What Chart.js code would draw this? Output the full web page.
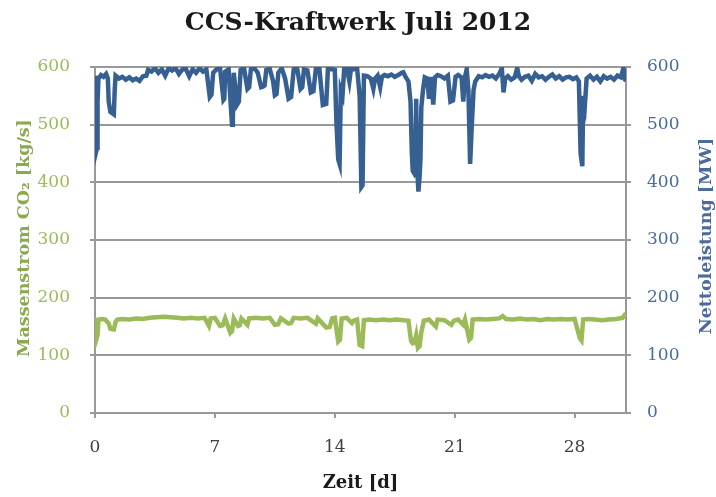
<!DOCTYPE html>
<html lang="de">
<head>
<meta charset="utf-8">
<title>CCS-Kraftwerk Juli 2012</title>
<script src="https://cdn.jsdelivr.net/npm/chart.js@4.4.1/dist/chart.umd.min.js"></script>
<style>
  html, body { margin: 0; padding: 0; background: #fff; }
</style>
</head>
<body>
<canvas id="kraftwerk" width="716" height="497"></canvas>
<script>
// Nettoleistung [MW] ueber Zeit [d]
const tageLeistung = [
  0.00, 0.05, 0.08, 0.12, 0.15, 0.20, 0.35, 0.50, 0.65, 0.75, 0.80, 0.90, 1.00, 1.10, 1.15, 1.20,
  1.40, 1.60, 1.80, 2.00, 2.20, 2.40, 2.60, 2.80, 3.00, 3.10, 3.30, 3.50, 3.70, 3.90, 4.10, 4.30,
  4.50, 4.70, 4.90, 5.10, 5.30, 5.50, 5.70, 5.90, 6.10, 6.30, 6.50, 6.70, 6.80, 6.90, 7.10, 7.30,
  7.50, 7.55, 7.60, 7.80, 7.90, 8.00, 8.05, 8.10, 8.30, 8.40, 8.50, 8.70, 8.90, 9.00, 9.10, 9.30,
  9.50, 9.70, 9.80, 9.90, 10.00, 10.20, 10.40, 10.50, 10.60, 10.70, 10.90, 11.10, 11.30, 11.45, 11.60, 11.80,
  12.00, 12.10, 12.20, 12.40, 12.60, 12.75, 12.90, 13.10, 13.30, 13.50, 13.60, 13.80, 14.00, 14.10, 14.20, 14.28,
  14.35, 14.45, 14.55, 14.70, 14.85, 14.95, 15.10, 15.30, 15.45, 15.55, 15.62, 15.70, 15.90, 16.10, 16.25, 16.35,
  16.50, 16.65, 16.75, 16.90, 17.10, 17.30, 17.50, 17.70, 17.90, 18.00, 18.15, 18.30, 18.42, 18.50, 18.55, 18.65,
  18.70, 18.75, 18.80, 18.88, 18.95, 19.00, 19.05, 19.15, 19.25, 19.40, 19.50, 19.60, 19.75, 19.85, 20.00, 20.20,
  20.40, 20.60, 20.75, 20.90, 21.05, 21.20, 21.40, 21.50, 21.60, 21.70, 21.80, 21.90, 22.00, 22.10, 22.20, 22.40,
  22.60, 22.80, 23.00, 23.20, 23.40, 23.60, 23.75, 23.85, 23.95, 24.10, 24.30, 24.50, 24.65, 24.75, 24.90, 25.10,
  25.30, 25.50, 25.70, 25.90, 26.10, 26.30, 26.50, 26.70, 26.90, 27.10, 27.30, 27.50, 27.70, 27.90, 28.10, 28.25,
  28.35, 28.45, 28.50, 28.60, 28.70, 28.90, 29.10, 29.30, 29.50, 29.70, 29.90, 30.10, 30.30, 30.50, 30.70, 30.85,
  30.95, 31.00
];
const leistung = [
  585, 560, 455, 460, 540, 580, 586, 583, 588, 580, 540, 522, 520, 518, 560, 585,
  580, 583, 578, 582, 577, 580, 576, 584, 585, 595, 592, 598, 590, 596, 585, 598,
  594, 598, 588, 596, 597, 584, 596, 590, 598, 592, 596, 548, 552, 590, 596, 598,
  543, 545, 592, 596, 545, 500, 510, 590, 535, 540, 595, 598, 562, 565, 596, 598,
  590, 565, 566, 568, 595, 597, 575, 551, 553, 590, 598, 580, 545, 548, 596, 598,
  562, 565, 596, 594, 556, 558, 598, 597, 534, 536, 598, 596, 595, 500, 440, 432,
  560, 551, 598, 598, 575, 598, 596, 598, 550, 392, 395, 585, 584, 580, 562, 580,
  585, 565, 583, 586, 584, 587, 583, 586, 590, 591, 582, 575, 540, 450, 420, 415,
  418, 545, 430, 384, 410, 440, 530, 560, 582, 580, 545, 583, 535, 582, 586, 584,
  580, 585, 540, 542, 583, 586, 582, 540, 583, 596, 560, 432, 500, 560, 575, 584,
  582, 586, 583, 585, 580, 588, 598, 556, 580, 584, 578, 582, 598, 584, 578, 583,
  585, 576, 588, 582, 584, 578, 583, 587, 580, 584, 578, 582, 583, 579, 582, 575,
  450, 428, 550, 534, 580, 585, 578, 583, 575, 584, 580, 583, 578, 585, 582, 598,
  578, 577
];

// Massenstrom CO2 [kg/s] ueber Zeit [d]
const tageCO2 = [
  0.00, 0.05, 0.10, 0.15, 0.20, 0.40, 0.60, 0.80, 0.90, 1.10, 1.20, 1.30, 1.60, 2.00, 2.40, 2.80,
  3.20, 3.60, 4.00, 4.40, 4.80, 5.20, 5.60, 6.00, 6.40, 6.65, 6.75, 7.00, 7.30, 7.45, 7.60, 7.90,
  8.00, 8.10, 8.35, 8.45, 8.55, 8.90, 9.00, 9.40, 9.80, 10.20, 10.50, 10.70, 10.85, 11.30, 11.45, 11.60,
  12.00, 12.40, 12.90, 13.00, 13.50, 13.70, 13.85, 14.00, 14.20, 14.30, 14.40, 14.70, 15.00, 15.10, 15.30, 15.45,
  15.60, 15.70, 16.00, 16.40, 16.80, 17.20, 17.60, 18.00, 18.30, 18.45, 18.55, 18.65, 18.75, 18.85, 18.95, 19.05,
  19.20, 19.50, 19.90, 20.00, 20.40, 20.80, 20.95, 21.20, 21.50, 21.60, 21.85, 21.95, 22.05, 22.40, 22.80, 23.20,
  23.60, 23.80, 24.00, 24.40, 24.80, 25.20, 25.60, 26.00, 26.40, 26.80, 27.20, 27.60, 28.00, 28.30, 28.40, 28.50,
  28.80, 29.20, 29.60, 30.00, 30.40, 30.80, 30.90, 31.00
];
const massenstrom = [
  165, 150, 130, 135, 162, 163, 162, 155, 146, 145, 158, 162, 163, 162, 164, 163,
  165, 166, 167, 166, 165, 164, 165, 164, 165, 151, 164, 165, 151, 152, 164, 139,
  142, 164, 151, 152, 164, 153, 164, 165, 164, 165, 153, 154, 164, 155, 156, 165,
  164, 165, 155, 164, 148, 149, 164, 165, 124, 127, 164, 165, 156, 160, 162, 118,
  116, 161, 162, 161, 162, 161, 162, 161, 160, 125, 121, 122, 135, 113, 116, 140,
  160, 162, 150, 162, 161, 153, 160, 162, 153, 162, 127, 130, 162, 163, 162, 163,
  164, 168, 163, 162, 164, 162, 163, 161, 163, 162, 163, 162, 163, 130, 126, 162,
  163, 162, 161, 162, 163, 165, 169, 165
];

const zeitTicks = [0, 7, 14, 21, 28];
const achsenWerte = [0, 100, 200, 300, 400, 500, 600];

const gruen = '#9BBB59';
const gruenText = '#8AAA4C';
const blau = '#376092';
const blauText = '#4A6B9C';
const gitter = '#999999';
const schrift = '"DejaVu Serif", "Liberation Serif", serif';

function punkte(xs, ys) {
  return xs.map((x, i) => ({ x: x, y: ys[i] }));
}

function achsenTitel(ctx, text, x, y, farbe) {
  ctx.save();
  ctx.translate(x, y);
  ctx.rotate(-Math.PI / 2);
  ctx.fillStyle = farbe;
  ctx.font = 'bold 17.5px ' + schrift;
  ctx.textAlign = 'center';
  ctx.textBaseline = 'middle';
  ctx.fillText(text, 0, 0);
  ctx.restore();
}

// beide y-Achsentitel lesen von unten nach oben
const achsenTitelPlugin = {
  id: 'achsenTitel',
  afterDraw(chart) {
    const ctx = chart.ctx;
    achsenTitel(ctx, 'Massenstrom CO₂ [kg/s]', 24, 238, gruenText);
    achsenTitel(ctx, 'Nettoleistung [MW]', 706, 236, blauText);
  }
};

function initializeKraftwerk() {
  const ctx = document.getElementById('kraftwerk');
  if (!ctx) return;

  new Chart(ctx, {
    type: 'line',
    data: {
      datasets: [
        {
          label: 'Massenstrom CO2',
          data: punkte(tageCO2, massenstrom),
          borderColor: gruen,
          borderWidth: 4.5,
          pointRadius: 0,
          yAxisID: 'y'
        },
        {
          label: 'Nettoleistung',
          data: punkte(tageLeistung, leistung),
          borderColor: blau,
          borderWidth: 4.5,
          pointRadius: 0,
          yAxisID: 'y1'
        }
      ]
    },
    plugins: [achsenTitelPlugin],
    options: {
      responsive: false,
      animation: false,
      layout: { padding: 0 },
      plugins: {
        legend: { display: false },
        tooltip: { enabled: false },
        title: {
          display: true,
          text: 'CCS-Kraftwerk Juli 2012',
          color: '#1a1a1a',
          font: { family: schrift, size: 25, weight: 'bold', lineHeight: 1.2 },
          padding: { top: 8, bottom: 29 }
        }
      },
      scales: {
        x: {
          type: 'linear',
          min: 0,
          max: 31,
          afterBuildTicks: (scale) => { scale.ticks = zeitTicks.map(v => ({ value: v })); },
          afterFit: (scale) => { scale.height = 84; },
          grid: { drawOnChartArea: false, color: gitter, lineWidth: 2, tickLength: 5 },
          border: { color: gitter, width: 2 },
          ticks: { color: '#404040', padding: 19, font: { family: schrift, size: 17 } },
          title: {
            display: true,
            text: 'Zeit [d]',
            color: '#1a1a1a',
            font: { family: schrift, size: 18, weight: 'bold', lineHeight: 1 },
            padding: { top: 0, bottom: 5 }
          }
        },
        y: {
          position: 'left',
          min: 0,
          max: 600,
          afterBuildTicks: (scale) => { scale.ticks = achsenWerte.map(v => ({ value: v })); },
          afterFit: (scale) => { scale.width = 95; },
          grid: { color: gitter, lineWidth: 2, tickLength: 5 },
          border: { color: gitter, width: 2 },
          ticks: { color: gruen, padding: 20, font: { family: schrift, size: 17 } },
          title: { display: false }
        },
        y1: {
          position: 'right',
          min: 0,
          max: 600,
          afterBuildTicks: (scale) => { scale.ticks = achsenWerte.map(v => ({ value: v })); },
          afterFit: (scale) => { scale.width = 90; },
          grid: { drawOnChartArea: false, color: gitter, lineWidth: 2, tickLength: 5 },
          border: { color: gitter, width: 2 },
          ticks: { color: blauText, padding: 16, font: { family: schrift, size: 17 } },
          title: { display: false }
        }
      }
    }
  });
}

document.addEventListener('DOMContentLoaded', () => {
  initializeKraftwerk();
});
</script>
</body>
</html>
